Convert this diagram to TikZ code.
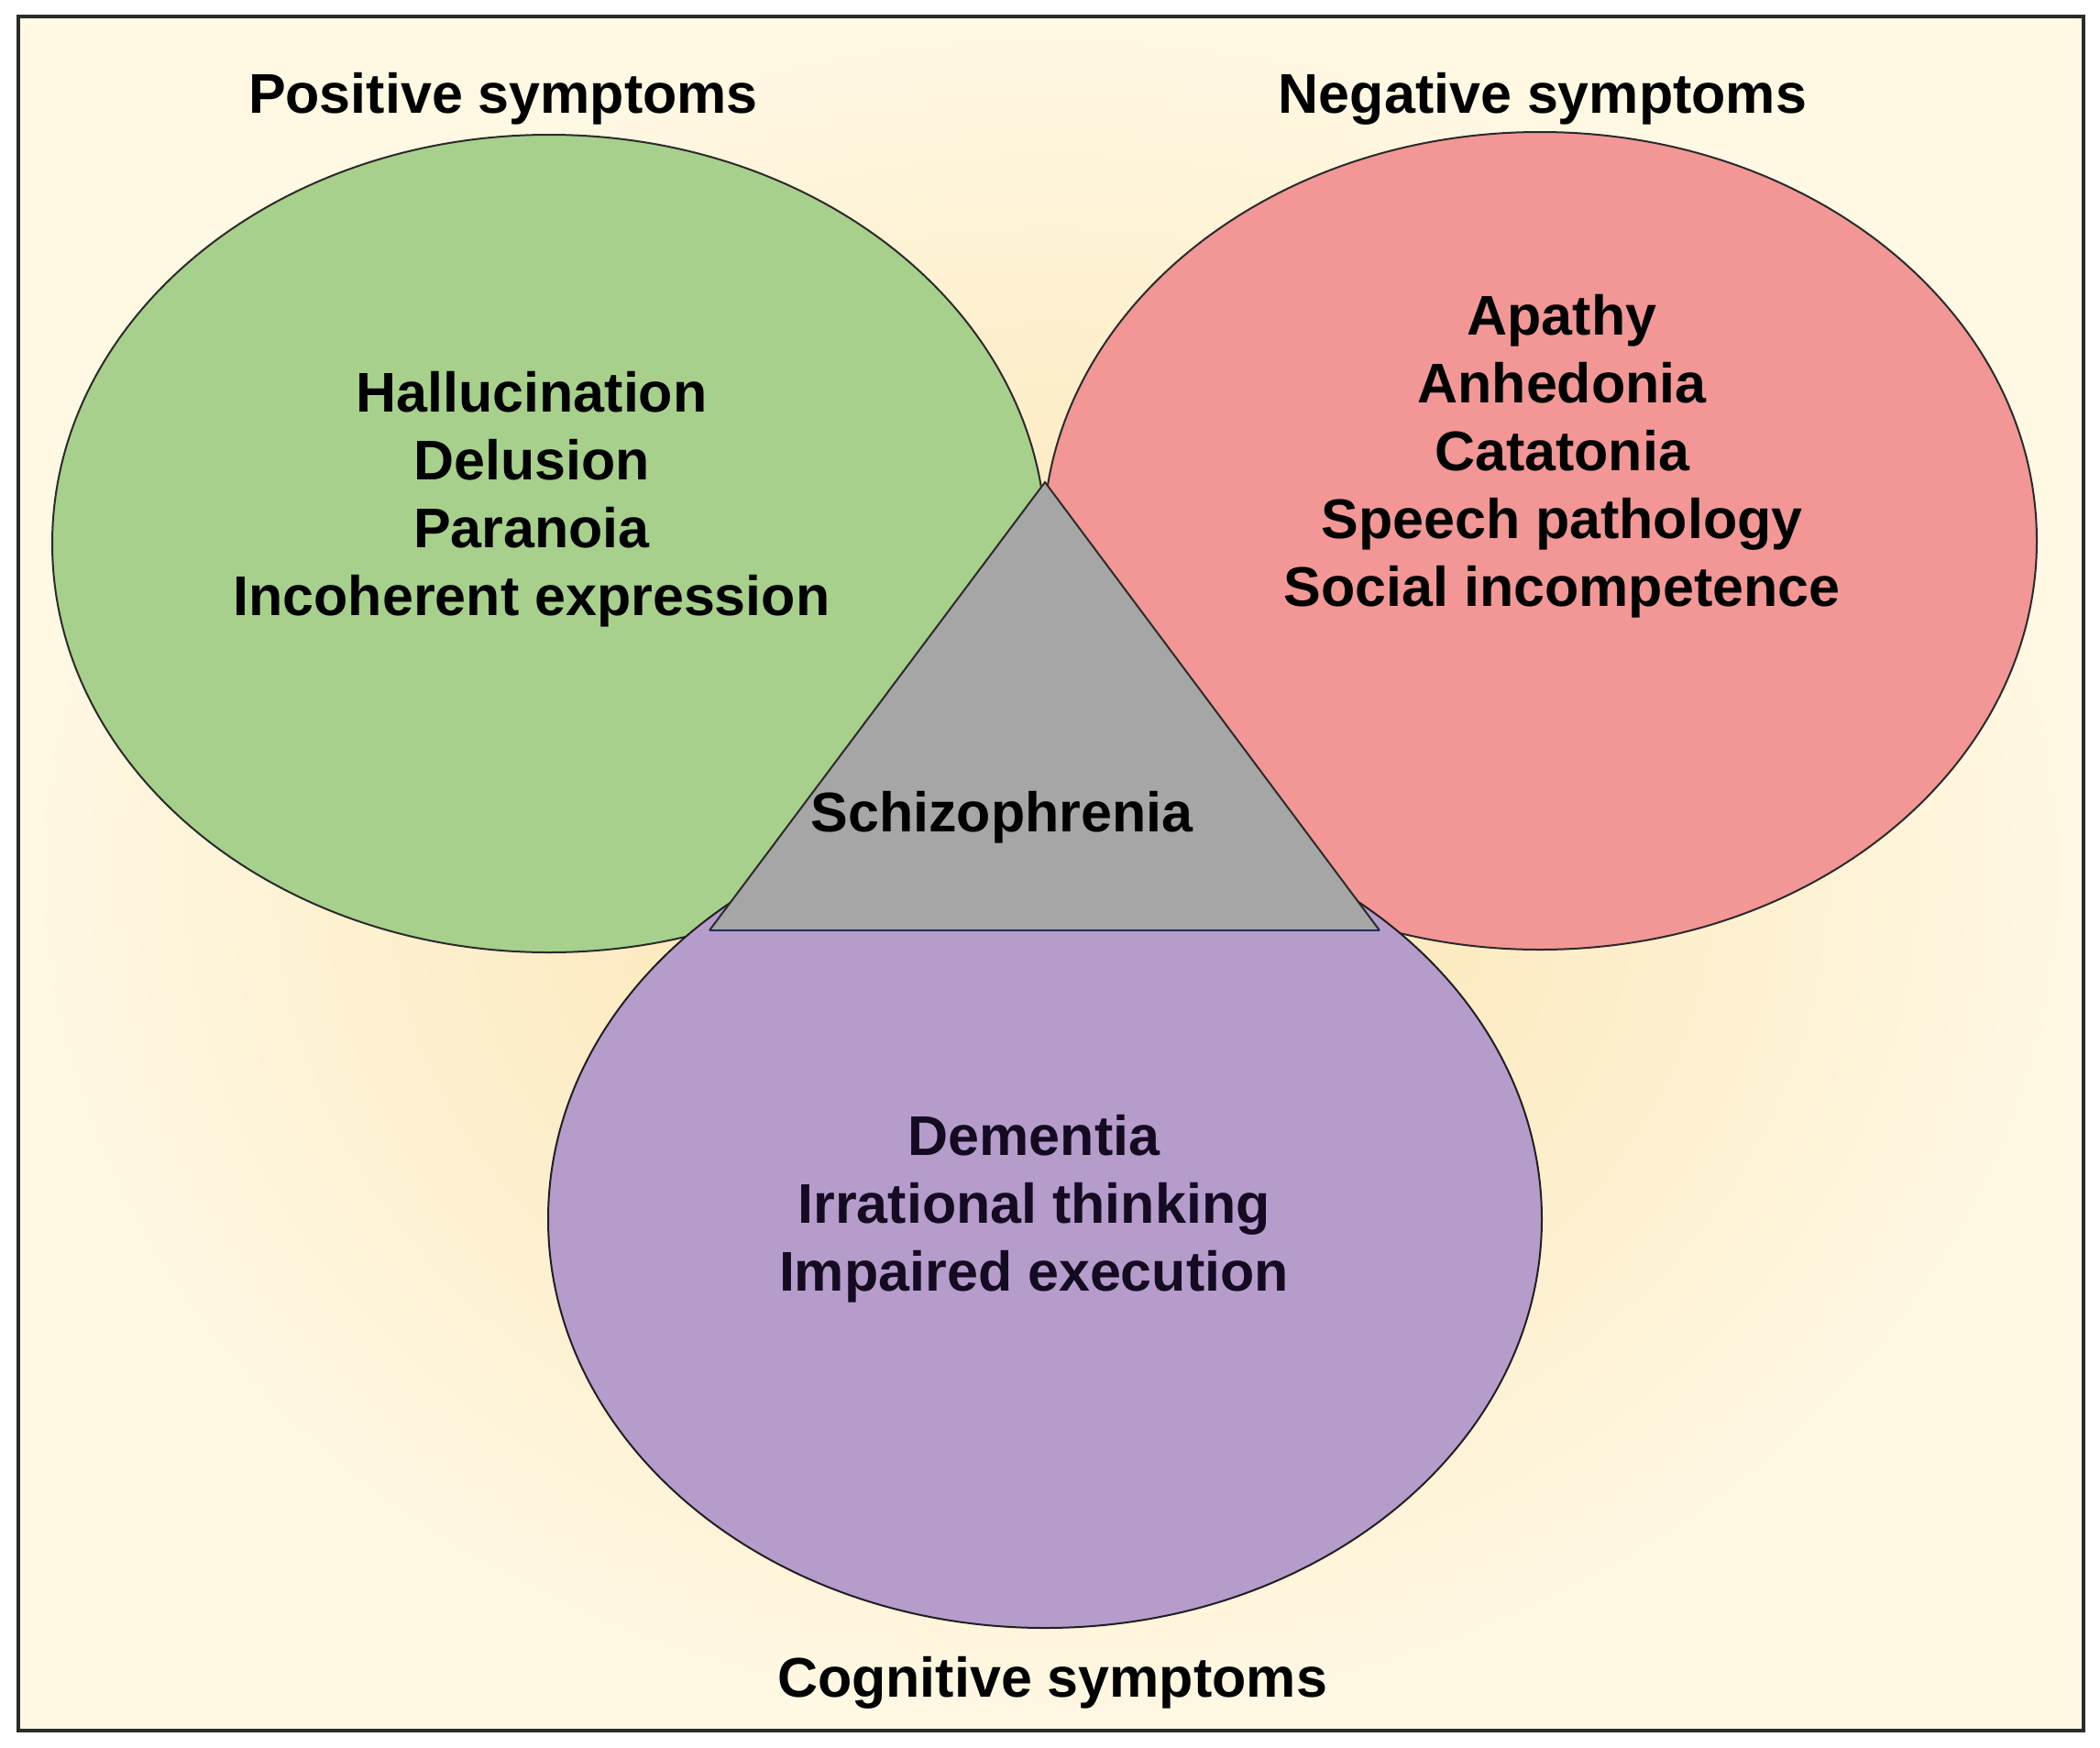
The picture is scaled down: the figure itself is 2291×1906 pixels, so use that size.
\documentclass[tikz,border=0pt]{standalone}
\usepackage{fontspec}
\setmainfont{Liberation Sans}
\usetikzlibrary{shapes.geometric}
\definecolor{bgin}{HTML}{FBE2AC}
\definecolor{bgout}{HTML}{FFF8E3}
\definecolor{posfill}{HTML}{A8D08D}
\definecolor{negfill}{HTML}{F29696}
\definecolor{cogfill}{HTML}{B69CCB}
\definecolor{trifill}{HTML}{A6A6A6}
\definecolor{edge}{HTML}{2B2B2B}
\definecolor{navy}{HTML}{1E2A5E}
\definecolor{cogtext}{HTML}{140A22}
\tikzset{
  blob/.style={ellipse, draw=edge, line width=2pt, inner sep=0pt,
    minimum width=1084pt, minimum height=892pt},
  title/.style={font=\fontsize{61}{74}\selectfont\bfseries, text=black, inner sep=0pt},
  listtext/.style={font=\fontsize{61}{74}\selectfont\bfseries, text=black, align=center, inner sep=0pt},
}
\begin{document}
\begin{tikzpicture}[x=1pt,y=-1pt]
\useasboundingbox (0,0) rectangle (2291,1906);
\fill[white] (0,0) rectangle (2291,1906);
\shade[inner color=bgin, outer color=bgout] (20,18) rectangle (2273,1888);
\draw[line width=4pt, edge] (20,18) rectangle (2273,1888);

% ellipses
\node[blob, fill=posfill] (pos) at (599,593) {};
\node[blob, fill=negfill] (neg) at (1680,590) {};
\node[blob, fill=cogfill, draw=edge!70!cogfill!40!black] (cog) at (1140,1330) {};

% triangle
\coordinate (apex) at (1140,526);
\coordinate (bl) at (774,1015);
\coordinate (br) at (1505,1015);
\fill[trifill] (apex) -- (bl) -- (br) -- cycle;
\draw[line width=2pt, edge] (bl) -- (apex) -- (br);
\draw[line width=2.5pt, navy] (bl) -- (br);

% titles
\node[title] (tpos) at (549,108) {Positive symptoms};
\node[title] (tneg) at (1683,108) {Negative symptoms};
\node[title] (tcog) at (1148,1836) {Cognitive symptoms};

% lists
\node[listtext] (lpos) at (580,545) {Hallucination\\Delusion\\Paranoia\\Incoherent expression};
\node[listtext] (lneg) at (1704,498) {Apathy\\Anhedonia\\Catatonia\\Speech pathology\\Social incompetence};
\node[listtext, text=cogtext] (lcog) at (1128,1319) {Dementia\\Irrational thinking\\Impaired execution};
\node[title] (center) at (1093,892) {Schizophrenia};
\end{tikzpicture}
\end{document}
